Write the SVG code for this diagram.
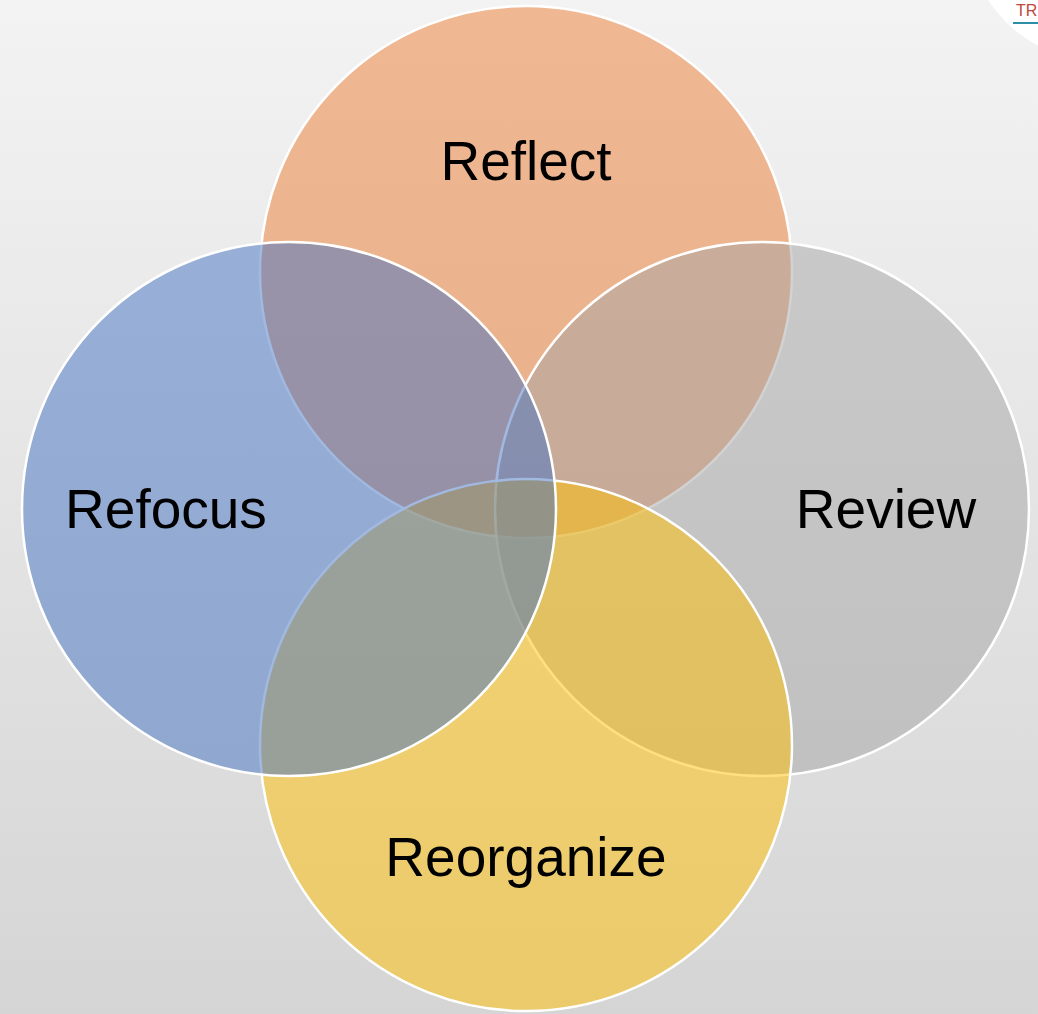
<svg xmlns="http://www.w3.org/2000/svg" width="1038" height="1014" viewBox="0 0 1038 1014">
<defs>
<linearGradient id="bg" x1="0" y1="0" x2="0" y2="1">
<stop offset="0" stop-color="#F3F3F3"/>
<stop offset="1" stop-color="#D5D5D5"/>
</linearGradient>
</defs>
<style>
.c{stroke:#FFFFFF;stroke-width:2.5;fill-opacity:0.5}
.t{font-family:"Liberation Sans",Arial,sans-serif;font-size:55px;fill:#000000;text-anchor:middle}
</style>
<rect x="0" y="0" width="1038" height="1014" fill="url(#bg)"/>
<g id="logo">
<circle cx="1100" cy="-72" r="133" fill="#FFFFFF"/>
<text x="1016" y="16" font-family="'Liberation Sans',Arial,sans-serif" font-size="16" fill="#C0473A">TR</text>
<rect x="1013" y="22" width="25" height="2" fill="#2E8FA8"/>
</g>
<g id="reflect">
<circle class="c" cx="526" cy="272" r="266" fill="#ED7D31"/>
</g>
<g id="review">
<circle class="c" cx="762" cy="509" r="267" fill="#A5A5A5"/>
</g>
<g id="reorganize">
<circle class="c" cx="526" cy="745" r="266" fill="#FFC000"/>
</g>
<g id="refocus">
<circle class="c" cx="289" cy="509" r="267" fill="#4472C4"/>
</g>
<g id="labels">
<text class="t" x="526" y="180">Reflect</text>
<text class="t" x="166" y="528">Refocus</text>
<text class="t" x="886" y="528">Review</text>
<text class="t" x="526" y="876">Reorganize</text>
</g>
<g id="connectors"></g>
</svg>
